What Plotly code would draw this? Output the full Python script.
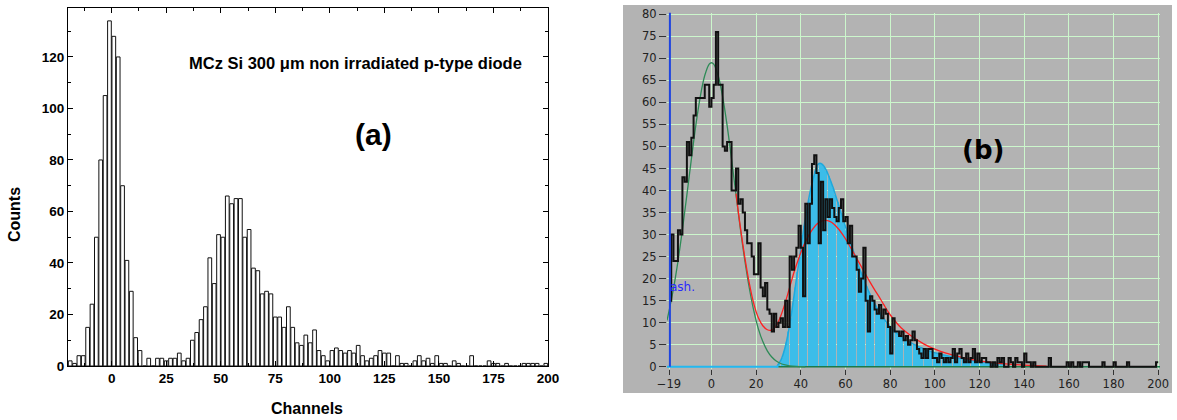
import plotly.graph_objects as go

# ---------------- Panel (a): histogram, 2-channel bins starting at -20 ----------------
a_bin_start = -20
a_bin_width = 2
a_counts = [
    2, 1, 4, 4, 15, 24, 50, 80, 105, 134,      # -20 .. -2
    128, 120, 70, 41, 29, 11, 6, 0, 3, 0,      # 0 .. 18
    3, 3, 2, 3, 3, 5, 2, 3, 10, 13,            # 20 .. 38
    18, 23, 42, 32, 51, 50, 66, 63, 65, 65,    # 40 .. 58
    50, 53, 38, 37, 28, 29, 28, 19, 19, 15,    # 60 .. 78
    23, 15, 9, 8, 12, 9, 14, 6, 4, 2,          # 80 .. 98
    6, 7, 6, 5, 6, 5, 8, 4, 2, 3,              # 100 .. 118
    4, 6, 5, 5, 0, 4, 1, 1, 0, 2,              # 120 .. 138
    4, 2, 3, 1, 4, 1, 1, 0, 2, 1,              # 140 .. 158
    0, 0, 4, 0, 0, 0, 2, 1, 1, 0,              # 160 .. 178
    1, 0, 0, 0, 1, 1, 1, 1, 0, 1,              # 180 .. 198
]
a_xticks = [0, 25, 50, 75, 100, 125, 150, 175, 200]
a_yticks = [0, 20, 40, 60, 80, 100, 120]

# ---------------- Panel (b): 1-channel histogram from -19 ----------------
b_bin_start = -19
b_counts = [
    15, 30, 24, 24, 31, 30, 43, 42, 51, 48,    # -19 .. -10
    52, 57, 61, 61, 61, 61, 64, 64, 59, 61,    # -9 .. 0
    64, 76, 64, 64, 50, 49, 51, 51, 40, 40,    # 1 .. 10
    45, 37, 38, 35, 31, 28, 28, 25, 21, 21,    # 11 .. 20
    28, 18, 16, 19, 13, 12, 8, 12, 9, 10,      # 21 .. 30
    11, 9, 15, 9, 25, 22, 25, 27, 32, 27,      # 31 .. 40
    16, 37, 28, 37, 46, 48, 44, 28, 42, 31,    # 41 .. 50
    38, 34, 38, 36, 34, 33, 36, 38, 33, 34,    # 51 .. 60
    28, 32, 25, 25, 22, 17, 20, 27, 15, 8,     # 61 .. 70
    16, 15, 13, 12, 14, 11, 13, 12, 9, 3,      # 71 .. 80
    11, 8, 8, 7, 8, 6, 7, 5, 6, 8,             # 81 .. 90
    6, 4, 3, 2, 4, 2, 4, 4, 2, 2,              # 91 .. 100
    1, 3, 2, 1, 2, 1, 2, 4, 1, 3,              # 101 .. 110
    4, 2, 1, 3, 1, 2, 4, 1, 3, 1,              # 111 .. 120
    2, 2, 1, 1, 0, 1, 0, 2, 1, 2,              # 121 .. 130
    0, 0, 2, 1, 0, 2, 1, 1, 0, 3,              # 131 .. 140
    1, 1, 0, 1, 0, 0, 0, 0, 0, 0,              # 141 .. 150
    2, 0, 0, 0, 0, 0, 0, 0, 1, 0,              # 151 .. 160
    1, 0, 0, 1, 0, 1, 1, 1, 0, 0,              # 161 .. 170
    0, 0, 0, 0, 1, 0, 0, 0, 0, 1,              # 171 .. 180
    0, 0, 0, 0, 0, 1, 0, 0, 0, 0,              # 181 .. 190
    0, 0, 0, 0, 0, 0, 0, 0, 1,                 # 191 .. 199
]
assert len(a_counts) == 110 and len(b_counts) == 219

# cyan fitted-signal histogram (channels 29 .. 130)
cyan_start = 29
cyan_vals = [
    0.3, 1, 2, 3.5, 5.5, 8, 11, 14.5, 18, 21.5,
    25, 28.5, 32, 35, 38, 40.5, 42.5, 44.5, 45.8, 46.2,
    46, 45.4, 44.5, 43.3, 42, 40.6, 39, 37.4, 35.8, 34.2,
    32.6, 31, 29.4, 27.8, 26.3, 24.8, 23.4, 22, 20.7, 19.4,
    18.2, 17, 15.9, 14.9, 13.9, 13, 12.2, 11.4, 10.7, 10,
    9.4, 8.8, 8.3, 7.8, 7.4, 7, 6.6, 6.3, 6, 5.7,
    5.4, 5.1, 4.9, 4.6, 4.4, 4.2, 4, 3.8, 3.6, 3.4,
    3.3, 3.1, 3, 2.8, 2.7, 2.6, 2.5, 2.4, 2.3, 2.2,
    2.1, 2, 1.9, 1.8, 1.7, 1.6, 1.5, 1.4, 1.35, 1.3,
    1.2, 1.15, 1.1, 1.0, 0.95, 0.9, 0.85, 0.8, 0.75, 0.7,
    0.65, 0.6,
]

# green (noise) fit curve
green_x = [-19.9, -19, -17, -15, -13, -11, -9, -7, -5, -3, -1, 0, 1, 3, 5, 7, 9, 11, 13,
           15, 17, 19, 21, 23, 25, 27, 29, 31, 33, 35, 38, 42]
green_y = [10.5, 12.6, 17.7, 23.9, 31.1, 39.0, 47.1, 54.8, 61.3, 66.1, 68.7, 69, 68.7,
           66.1, 61.3, 54.8, 47.1, 39.0, 31.1, 23.9, 17.7, 12.6, 8.6, 5.7, 3.6, 2.2, 1.3,
           0.74, 0.41, 0.2, 0.07, 0]

# red (total) fit curve
red_x = [11, 13, 15, 17, 19, 21, 23, 25, 27, 29, 31, 33, 35, 37, 39, 41, 43, 45, 47,
         49, 51, 53, 55, 57, 59, 61, 63, 65, 67, 69, 71, 73, 75, 77, 80, 85, 90, 95, 100,
         105, 110, 115, 120, 125, 130, 140, 150]
red_y = [39.3, 31.5, 24.6, 18.8, 14.2, 11.1, 9.3, 8.4, 8.3, 9.3, 11.5, 14.5, 18, 21.5,
         24.5, 27.2, 29.3, 31, 32.3, 33, 33.2, 33, 32.3, 31.2, 29.8, 28.2, 26.4, 24.6,
         22.8, 21, 19.2, 17.5, 15.9, 14.2, 11.8, 8.8, 6.8, 5.2, 4.0, 3.1, 2.4, 1.8, 1.3,
         1.0, 0.7, 0.35, 0.15]

b_xticks = [-19, 0, 20, 40, 60, 80, 100, 120, 140, 160, 180, 200]
b_yticks = list(range(0, 81, 5))

W, H = 1177, 420
def fx(p):
    return p / W
def fy(p):
    return 1 - p / H

fig = go.Figure()

# ---- (a) bars
a_x = [a_bin_start + a_bin_width * i + a_bin_width / 2 for i in range(len(a_counts))]
fig.add_trace(go.Bar(
    x=a_x, y=a_counts, width=1.7, xaxis="x", yaxis="y",
    marker=dict(color="white", line=dict(color="#111111", width=1)),
    showlegend=False, hoverinfo="skip"))

# ---- (b) cyan fitted histogram bars
c_x = [cyan_start + i + 0.5 for i in range(len(cyan_vals))]
fig.add_trace(go.Bar(
    x=c_x, y=cyan_vals, width=0.55, xaxis="x2", yaxis="y2",
    marker=dict(color="#3cbde9", line=dict(width=0)),
    showlegend=False, hoverinfo="skip"))
fig.add_trace(go.Scatter(
    x=c_x, y=cyan_vals, mode="lines", line=dict(color="#1fa8dc", width=1.5, shape="spline"),
    xaxis="x2", yaxis="y2", showlegend=False, hoverinfo="skip"))
# baselines
fig.add_trace(go.Scatter(x=[-19.9, 30], y=[0, 0], mode="lines",
                         line=dict(color="#22b8f0", width=2),
                         xaxis="x2", yaxis="y2", showlegend=False, hoverinfo="skip"))
fig.add_trace(go.Scatter(x=[30, 200.8], y=[0, 0], mode="lines",
                         line=dict(color="#1d7a4a", width=1.5),
                         xaxis="x2", yaxis="y2", showlegend=False, hoverinfo="skip"))
# green curve
fig.add_trace(go.Scatter(x=green_x, y=green_y, mode="lines",
                         line=dict(color="#2e8b57", width=1.3, shape="spline"),
                         xaxis="x2", yaxis="y2", showlegend=False, hoverinfo="skip"))
# red curve
fig.add_trace(go.Scatter(x=red_x, y=red_y, mode="lines",
                         line=dict(color="#ff2020", width=1.3, shape="spline"),
                         xaxis="x2", yaxis="y2", showlegend=False, hoverinfo="skip"))
# data step histogram
b_edges = [b_bin_start + i for i in range(len(b_counts))] + [b_bin_start + len(b_counts)]
b_step_y = b_counts + [b_counts[-1]]
fig.add_trace(go.Scatter(x=b_edges, y=b_step_y, mode="lines",
                         line=dict(color="#111111", width=2, shape="hv"),
                         xaxis="x2", yaxis="y2", showlegend=False, hoverinfo="skip"))
# threshold line
fig.add_trace(go.Scatter(x=[-18.6, -18.6], y=[0, 80.4], mode="lines",
                         line=dict(color="#1f45e0", width=2),
                         xaxis="x2", yaxis="y2", showlegend=False, hoverinfo="skip"))

bold_font = dict(family="Liberation Sans, Arial, sans-serif", size=13.5, color="black", weight="bold")
tick_font_b = dict(family="DejaVu Sans, sans-serif", size=11.5, color="#222222")

fig.update_layout(
    width=W, height=H, autosize=False,
    margin=dict(l=0, r=0, t=0, b=0, pad=0),
    paper_bgcolor="white", plot_bgcolor="white",
    barmode="overlay", showlegend=False,
    xaxis=dict(domain=[fx(68), fx(548)], anchor="y", range=[-20, 200], automargin=False,
               tickmode="array", tickvals=a_xticks, ticks="inside", ticklen=5,
               tickwidth=1, tickcolor="black", showline=True, linecolor="black",
               linewidth=1, mirror="ticks", showgrid=False, zeroline=False,
               tickfont=bold_font,
               minor=dict(tickmode="linear", tick0=0, dtick=12.5, ticks="inside",
                          ticklen=3, tickcolor="black", showgrid=False)),
    yaxis=dict(domain=[fy(366), fy(8)], anchor="x", range=[0, 139], automargin=False,
               tickmode="array", tickvals=a_yticks, ticks="inside", ticklen=5,
               tickwidth=1, tickcolor="black", showline=True, linecolor="black",
               linewidth=1, mirror="ticks", showgrid=False, zeroline=False,
               tickfont=bold_font,
               minor=dict(tickmode="linear", tick0=0, dtick=10, ticks="inside",
                          ticklen=3, tickcolor="black", showgrid=False)),
    xaxis2=dict(domain=[fx(667), fx(1160)], anchor="y2", range=[-19.9, 200.8],
                automargin=False,
                tickmode="array", tickvals=b_xticks, ticks="outside", ticklen=5,
                tickcolor="#333333", showline=False, zeroline=False,
                showgrid=True, gridcolor="#ccf7cc", gridwidth=1,
                tickfont=tick_font_b),
    yaxis2=dict(domain=[fy(368.5), fy(12.5)], anchor="x2", range=[-0.4, 80.4],
                automargin=False,
                tickmode="array", tickvals=b_yticks, ticks="outside", ticklen=7,
                tickcolor="#333333", showline=False, zeroline=False,
                showgrid=True, gridcolor="#ccf7cc", gridwidth=1,
                tickfont=tick_font_b),
    shapes=[dict(type="rect", xref="paper", yref="paper", x0=fx(623), x1=fx(1172),
                 y0=fy(393), y1=fy(5), fillcolor="#b3b3b3", line=dict(width=0),
                 layer="below")],
    annotations=[
        dict(text="MCz Si 300 μm non irradiated p-type diode", x=111.8, y=117.7,
             xref="x", yref="y", showarrow=False,
             font=dict(family="Liberation Sans, Arial, sans-serif", size=16.5,
                       color="black", weight="bold")),
        dict(text="(a)", x=120, y=90, xref="x", yref="y", showarrow=False,
             font=dict(family="Liberation Sans, Arial, sans-serif", size=30,
                       color="black", weight="bold")),
        dict(text="Counts", x=fx(15), y=fy(215), xref="paper", yref="paper",
             xanchor="center", yanchor="middle",
             showarrow=False, textangle=-90,
             font=dict(family="Liberation Sans, Arial, sans-serif", size=16,
                       color="black", weight="bold")),
        dict(text="Channels", x=fx(307), y=fy(408), xref="paper", yref="paper",
             xanchor="center", yanchor="middle",
             showarrow=False,
             font=dict(family="Liberation Sans, Arial, sans-serif", size=16,
                       color="black", weight="bold")),
        dict(text="(b)", x=121.5, y=49.2, xref="x2", yref="y2", showarrow=False,
             font=dict(family="DejaVu Sans, sans-serif", size=26, color="black",
                       weight="bold")),
        dict(text="ash.", x=-19.6, y=18.2, xref="x2", yref="y2", showarrow=False,
             xanchor="left",
             font=dict(family="DejaVu Sans, sans-serif", size=12, color="#2a2aff")),
    ],
)

fig.write_html("out.html", config={"displayModeBar": False},
               post_script="document.body.style.margin='0';document.body.style.overflow='hidden';")
